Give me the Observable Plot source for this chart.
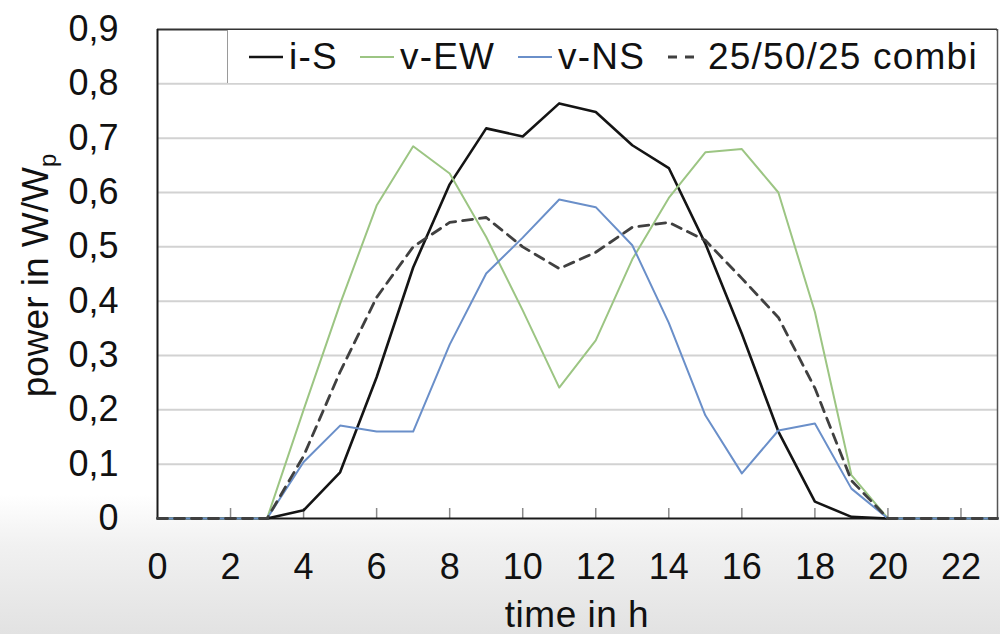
<!DOCTYPE html>
<html>
<head>
<meta charset="utf-8">
<script src="https://cdn.jsdelivr.net/npm/d3@7"></script>
<script src="https://cdn.jsdelivr.net/npm/@observablehq/plot@0.6"></script>
<style>
  html, body { margin: 0; padding: 0; }
  body {
    width: 1000px; height: 634px; overflow: hidden; position: relative;
    font-family: "Liberation Sans", Arial, sans-serif;
    background: linear-gradient(to bottom, #ffffff 0%, #ffffff 78%, #f1f1f1 86%, #e2e2e2 100%);
  }
  #chart { position: absolute; left: 0; top: 0; }
  #legend {
    position: absolute; left: 227px; top: 30px; width: 768px; height: 53px;
    background: #fff; border-left: 1.5px solid #9a9a9a;
  }
  .entry { position: absolute; top: 0; height: 53px; display: flex; align-items: center;
    font-size: 37px; letter-spacing: 1.2px; color: #111; white-space: nowrap; }
  .entry svg { margin-right: 6px; }
</style>
</head>
<body>
<div id="chart"></div>
<div id="legend"></div>
<script>
// ---- data ----
const hours = [0,1,2,3,4,5,6,7,8,9,10,11,12,13,14,15,16,17,18,19,20,21,22,23];
const iS    = [0,0,0,0,0.015,0.085,0.26,0.462,0.615,0.718,0.703,0.764,0.748,0.687,0.645,0.506,0.34,0.16,0.031,0.003,0,0,0,0];
const vEW   = [0,0,0,0,0.2,0.395,0.576,0.685,0.635,0.518,0.383,0.241,0.328,0.477,0.59,0.674,0.68,0.6,0.38,0.08,0,0,0,0];
const vNS   = [0,0,0,0,0.104,0.171,0.16,0.16,0.32,0.451,0.517,0.587,0.573,0.503,0.36,0.19,0.083,0.162,0.175,0.055,0,0,0,0];
const combi = [0,0,0,0,0.115,0.27,0.407,0.5,0.545,0.554,0.5,0.46,0.49,0.536,0.545,0.512,0.442,0.37,0.24,0.07,0,0,0,0];
const seriesNames = ["i-S", "v-EW", "v-NS", "25/50/25 combi"];
const xTicks = [0,2,4,6,8,10,12,14,16,18,20,22];
const yTicks = [0,0.1,0.2,0.3,0.4,0.5,0.6,0.7,0.8,0.9];
const xLabel = "time in h";
const yLabel = "power in W/W";
const yLabelSub = "p";

// ---- styles ----
const styles = {
  "i-S": {stroke: "#141414", strokeWidth: 2.6, dash: null},
  "v-EW": {stroke: "#9cc583", strokeWidth: 2, dash: null},
  "v-NS": {stroke: "#6a8fc9", strokeWidth: 2, dash: null},
  "25/50/25 combi": {stroke: "#404040", strokeWidth: 2.8, dash: "10,7"}
};
const seriesValues = [iS, vEW, vNS, combi];
const rows = seriesNames.map((name, k) => hours.map((h, i) => ({series: name, hour: h, value: seriesValues[k][i]})));

const W = 1000, H = 634;
const mTop = 29, mBottom = 116, mLeft = 157, mRight = 3;
const innerH = H - mTop - mBottom;
const fmt = d => d === 0 ? "0" : d.toFixed(1).replace(".", ",");

const lineMarks = rows.map(r => {
  const s = styles[r[0].series];
  return Plot.line(r, {x: "hour", y: "value", stroke: s.stroke, strokeWidth: s.strokeWidth,
    strokeDasharray: s.dash, strokeLinejoin: "round"});
});

const plot = Plot.plot({
  width: W, height: H,
  marginTop: mTop, marginBottom: mBottom, marginLeft: mLeft, marginRight: mRight,
  style: {background: "transparent", fontFamily: "'Liberation Sans', Arial, sans-serif", color: "#111"},
  x: {domain: [0, 23], label: null},
  y: {domain: [0, 0.9], label: null},
  marks: [
    Plot.frame({fill: "#fff", stroke: null}),
    Plot.ruleY(yTicks.filter(d => d > 0 && d < 0.9), {stroke: "#d2d2d2", strokeWidth: 2}),
    Plot.tickX(xTicks.filter(d => d > 0), {x: d => d, stroke: "#8a8a8a", strokeWidth: 1.5, insetTop: innerH - 10}),
    Plot.ruleY([0.9], {stroke: "#333", strokeWidth: 2}),
    Plot.ruleX([23], {stroke: "#555", strokeWidth: 1.5}),
    Plot.ruleX([0], {stroke: "#1a1a1a", strokeWidth: 2}),
    Plot.ruleY([0], {stroke: "#1a1a1a", strokeWidth: 2}),
    ...lineMarks,
    Plot.axisX({ticks: xTicks, tickSize: 0, tickPadding: 35, fontSize: 36, tickFormat: d => String(d), label: null}),
    Plot.axisY({ticks: yTicks, tickSize: 0, tickPadding: 39, fontSize: 36, tickFormat: fmt, label: null})
  ]
});
document.getElementById("chart").appendChild(plot);

// axis titles
const svg = d3.select(plot);
svg.append("text")
  .attr("x", mLeft + (W - mLeft - mRight) / 2).attr("y", 627)
  .attr("text-anchor", "middle").attr("font-size", 37).attr("letter-spacing", 0.5).attr("fill", "#111")
  .text(xLabel);
const yl = svg.append("text")
  .attr("transform", `translate(48, ${mTop + innerH / 2 + 2}) rotate(-90)`)
  .attr("text-anchor", "middle").attr("font-size", 37).attr("fill", "#111");
yl.append("tspan").text(yLabel);
yl.append("tspan").attr("font-size", 24).attr("dy", 8).text(yLabelSub);

// legend
const legendX = [21, 132, 290, 440];
const legend = d3.select("#legend");
seriesNames.forEach((name, i) => {
  const s = styles[name];
  const e = legend.append("div").attr("class", "entry").style("left", legendX[i] + "px");
  const sw = e.append("svg").attr("width", 34).attr("height", 10);
  sw.append("line").attr("x1", 0).attr("x2", 34).attr("y1", 5).attr("y2", 5)
    .attr("stroke", s.stroke).attr("stroke-width", s.strokeWidth)
    .attr("stroke-dasharray", s.dash ? "9,8" : null);
  e.append("span").text(name);
});
</script>
</body>
</html>
